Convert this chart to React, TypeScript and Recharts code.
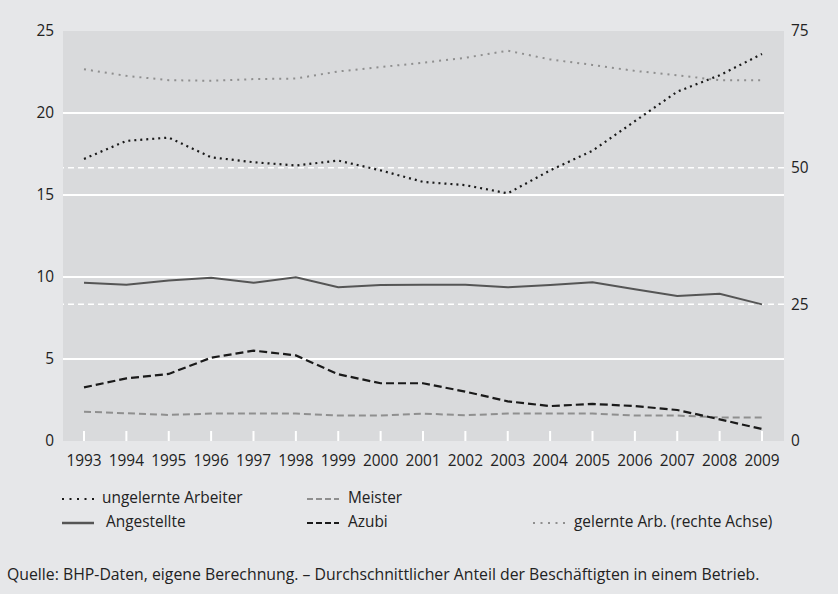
import React from 'react';
import { LineChart, Line, XAxis, YAxis, CartesianGrid, ReferenceLine } from 'recharts';

const years = ['1993','1994','1995','1996','1997','1998','1999','2000','2001','2002','2003','2004','2005','2006','2007','2008','2009'];
const ungelernte = [17.2,18.3,18.5,17.3,17.0,16.8,17.1,16.5,15.8,15.6,15.1,16.5,17.7,19.5,21.3,22.3,23.6];
const gelernte = [68.0,66.8,66.0,65.9,66.2,66.3,67.6,68.4,69.2,70.1,71.4,69.8,68.8,67.7,66.9,66.0,66.0];
const angestellte = [9.65,9.53,9.78,9.96,9.65,9.98,9.37,9.51,9.53,9.53,9.37,9.51,9.68,9.25,8.84,8.98,8.33];
const azubi = [3.27,3.82,4.09,5.08,5.51,5.22,4.07,3.52,3.52,3.01,2.42,2.13,2.26,2.13,1.89,1.32,0.73];
const meister = [1.79,1.69,1.59,1.67,1.67,1.67,1.55,1.55,1.67,1.57,1.67,1.67,1.67,1.55,1.55,1.44,1.44];

const leftTicks = [0, 5, 10, 15, 20, 25];
const rightTicks = [0, 25, 50, 75];
const leftGrid = [5, 10, 15, 20];
const rightGrid = [25, 50];

const data = years.map((y, i) => ({
  year: y,
  ungelernte: ungelernte[i],
  gelernte: gelernte[i],
  angestellte: angestellte[i],
  azubi: azubi[i],
  meister: meister[i],
}));

const FONT = '"Open Sans", "Noto Sans", sans-serif';
const FS = 15.4;
const BG = '#e6e7e9';
const PLOT = '#d9dadc';
const TEXT = '#222';
const tickStyle = { fontSize: FS, fill: TEXT, fontFamily: FONT };

const Swatch = ({ kind }: { kind: string }) => {
  let props: any = {};
  if (kind === 'dotBlack') props = { stroke: '#1a1a1a', strokeWidth: 2, strokeDasharray: '2 5.5' };
  if (kind === 'dotGray') props = { stroke: '#8f8f8f', strokeWidth: 2, strokeDasharray: '2 5.5' };
  if (kind === 'solid') props = { stroke: '#555', strokeWidth: 2.5 };
  if (kind === 'dashBlack') props = { stroke: '#1a1a1a', strokeWidth: 2, strokeDasharray: '6 3' };
  if (kind === 'dashGray') props = { stroke: '#8f8f8f', strokeWidth: 2, strokeDasharray: '6 3' };
  return (
    <svg width={34} height={6} style={{ display: 'block' }}>
      <line x1={1} y1={3} x2={33} y2={3} {...props} />
    </svg>
  );
};

const legendItems = [
  { label: 'ungelernte Arbeiter', kind: 'dotBlack', x: 61, tx: 102, y: 499 },
  { label: 'Meister', kind: 'dashGray', x: 306, tx: 348, y: 499 },
  { label: 'Angestellte', kind: 'solid', x: 61, tx: 106, y: 523 },
  { label: 'Azubi', kind: 'dashBlack', x: 306, tx: 348, y: 523 },
  { label: 'gelernte Arb. (rechte Achse)', kind: 'dotGray', x: 532, tx: 574, y: 523 },
];

export default function App() {
  return (
    <div style={{ position: 'absolute', left: 0, top: 0, width: 838, height: 594, background: BG, fontFamily: FONT, overflow: 'hidden' }}>
      <LineChart width={838} height={470} data={data} margin={{ top: 31, right: 0, bottom: 0, left: 8 }}>
        <CartesianGrid yAxisId="left" fill={PLOT} stroke="none" horizontal={false} vertical={false} />
        <XAxis
          dataKey="year"
          height={29}
          padding={{ left: 21, right: 22 }}
          axisLine={false}
          tickSize={-10}
          tickMargin={24}
          tickLine={{ stroke: '#ffffff', strokeWidth: 2 }}
          tick={tickStyle}
          interval={0}
        />
        <YAxis
          yAxisId="left"
          width={55}
          domain={[0, 25]}
          ticks={leftTicks}
          axisLine={false}
          tickLine={false}
          tickSize={0}
          tickMargin={9}
          tick={tickStyle}
        />
        <YAxis
          yAxisId="right"
          orientation="right"
          width={54}
          domain={[0, 75]}
          ticks={rightTicks}
          axisLine={false}
          tickLine={false}
          tickSize={0}
          tickMargin={7}
          tick={{ ...tickStyle, textAnchor: 'start' }}
        />
        {leftGrid.map((v) => (
          <ReferenceLine key={'l' + v} yAxisId="left" y={v} stroke="#ffffff" strokeWidth={2} />
        ))}
        {rightGrid.map((v) => (
          <ReferenceLine key={'r' + v} yAxisId="right" y={v} stroke="#ffffff" strokeWidth={1.5} strokeDasharray="6 4" />
        ))}
        <Line yAxisId="right" dataKey="gelernte" stroke="#8f8f8f" strokeWidth={2} strokeDasharray="2 5" dot={false} isAnimationActive={false} />
        <Line yAxisId="left" dataKey="meister" stroke="#8f8f8f" strokeWidth={2} strokeDasharray="7 4" dot={false} isAnimationActive={false} />
        <Line yAxisId="left" dataKey="angestellte" stroke="#555555" strokeWidth={2} dot={false} isAnimationActive={false} />
        <Line yAxisId="left" dataKey="azubi" stroke="#1a1a1a" strokeWidth={2.2} strokeDasharray="8 4" dot={false} isAnimationActive={false} />
        <Line yAxisId="left" dataKey="ungelernte" stroke="#1a1a1a" strokeWidth={2.2} strokeDasharray="2 4" dot={false} isAnimationActive={false} />
      </LineChart>
      {legendItems.map((it) => (
        <React.Fragment key={it.label}>
          <div style={{ position: 'absolute', left: it.x, top: it.y - 3 }}>
            <Swatch kind={it.kind} />
          </div>
          <div style={{ position: 'absolute', left: it.tx, top: it.y - 11, fontSize: FS, lineHeight: '20px', color: TEXT, whiteSpace: 'nowrap' }}>
            {it.label}
          </div>
        </React.Fragment>
      ))}
      <div style={{ position: 'absolute', left: 7, top: 564, fontSize: 15.8, lineHeight: '20px', color: TEXT, whiteSpace: 'nowrap' }}>
        Quelle: BHP-Daten, eigene Berechnung. – Durchschnittlicher Anteil der Beschäftigten in einem Betrieb.
      </div>
    </div>
  );
}
